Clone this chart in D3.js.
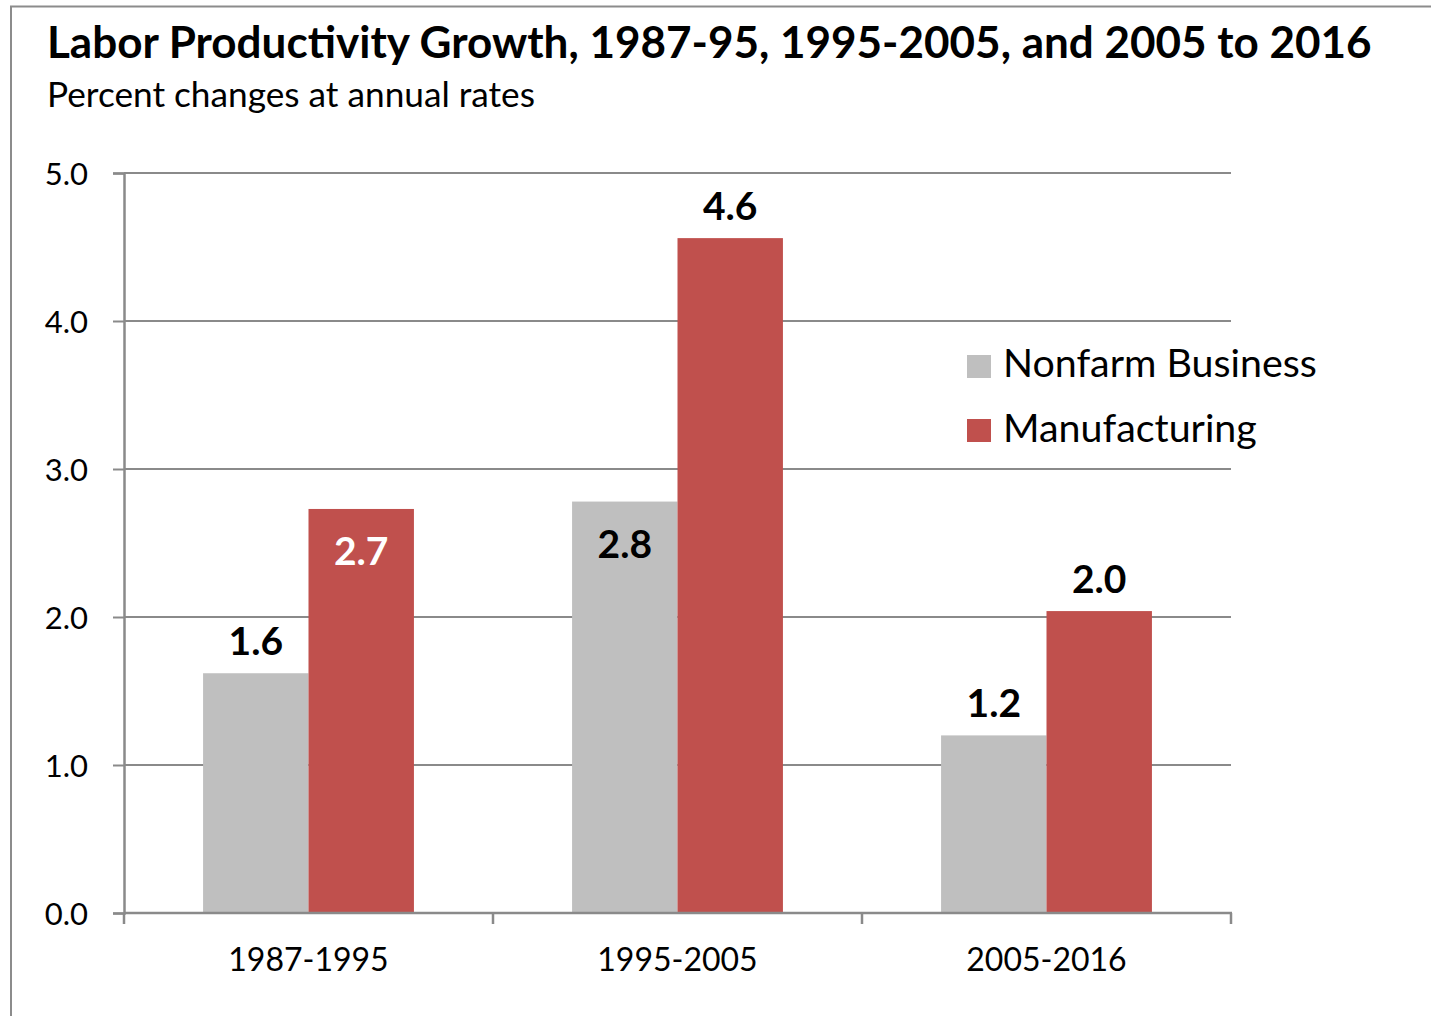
<!DOCTYPE html>
<html>
<head>
<meta charset="utf-8">
<script src="https://cdn.jsdelivr.net/npm/d3@7"></script>
<style>
  body { margin: 0; background: #fff; }
  text { font-family: Lato, "Open Sans", sans-serif; fill: #000; }
</style>
</head>
<body>
<script>
// data
var periods = ["1987-1995", "1995-2005", "2005-2016"];
var seriesNames = ["Nonfarm Business", "Manufacturing"];
var nonfarm = [1.62, 2.78, 1.20];
var manufacturing = [2.73, 4.56, 2.04];
var nonfarmLabels = ["1.6", "2.8", "1.2"];
var manufacturingLabels = ["2.7", "4.6", "2.0"];
var labelSpot = [["above", "inside", "above"], ["inside", "above", "above"]];
var yTicks = [0, 1, 2, 3, 4, 5];

var colors = ["#BFBFBF", "#C0504D"];
var W = 1431, H = 1016;

var svg = d3.select("body").append("svg")
    .attr("width", W).attr("height", H);

// outer frame (cut off on right and bottom)
svg.append("rect")
    .attr("x", 11).attr("y", 6.5)
    .attr("width", 1440).attr("height", 1030)
    .attr("fill", "none").attr("stroke", "#8c8c8c").attr("stroke-width", 2);

// fit text to a width
function fit(sel, w) {
    var n = sel.node();
    var fs = parseFloat(sel.attr("font-size"));
    var cw = n.getComputedTextLength();
    var nfs = fs * w / cw;
    sel.attr("font-size", nfs.toFixed(2));
    return nfs;
}

// titles
var t = svg.append("text").attr("x", 47).attr("y", 58)
    .attr("font-size", 38).attr("font-weight", 700)
    .text("Labor Productivity Growth, 1987-95, 1995-2005, and 2005 to 2016");
fit(t, 1325);
var st = svg.append("text").attr("x", 47).attr("y", 107)
    .attr("font-size", 32)
    .text("Percent changes at annual rates");
fit(st, 488);

// scales
var x = d3.scaleBand().domain(periods).range([124, 1231]).padding(0);
var x1 = d3.scaleBand().domain([0, 1]).range([0, x.bandwidth()])
    .paddingInner(0).paddingOuter(0.75);
var y = d3.scaleLinear().domain([0, 5]).range([913, 173]);

// gridlines
svg.append("g").selectAll("line").data(yTicks.slice(1)).join("line")
    .attr("x1", 124).attr("x2", 1231)
    .attr("y1", d => y(d)).attr("y2", d => y(d))
    .attr("stroke", "#8a8a8a").attr("stroke-width", 2);

// bars
var allVals = [nonfarm, manufacturing];
var allLabels = [nonfarmLabels, manufacturingLabels];
allVals.forEach((vals, s) => {
    svg.append("g").selectAll("rect").data(vals).join("rect")
        .attr("x", (d, i) => x(periods[i]) + x1(s))
        .attr("y", d => y(d))
        .attr("width", x1.bandwidth())
        .attr("height", d => y(0) - y(d))
        .attr("fill", colors[s]);
});

// y axis
var yAxis = d3.axisLeft(y).tickValues(yTicks).tickFormat(d3.format(".1f"))
    .tickSize(11).tickPadding(25);
var ga = svg.append("g").attr("transform", "translate(124,0)").call(yAxis);
ga.select(".domain").attr("stroke", "#8a8a8a").attr("stroke-width", 2.5);
ga.selectAll(".tick line").attr("stroke", "#8a8a8a").attr("stroke-width", 2);
ga.selectAll(".tick text").attr("font-size", 31).attr("font-family", "Lato, sans-serif")
    .attr("fill", "#000").attr("dy", "0.36em");

// x axis
var xAxis = d3.axisBottom(x).tickSize(0).tickPadding(35);
var gx = svg.append("g").attr("transform", "translate(0,913)").call(xAxis);
gx.select(".domain").remove();
gx.selectAll(".tick text").attr("font-size", 32).attr("font-family", "Lato, sans-serif")
    .attr("fill", "#000");
svg.append("line").attr("x1", 124).attr("x2", 1232).attr("y1", 913).attr("y2", 913)
    .attr("stroke", "#8a8a8a").attr("stroke-width", 2.5);
var bounds = periods.map(p => x(p)).concat([x(periods[periods.length - 1]) + x.bandwidth()]);
svg.append("g").selectAll("line").data(bounds).join("line")
    .attr("x1", d => d).attr("x2", d => d)
    .attr("y1", 913).attr("y2", 924)
    .attr("stroke", "#8a8a8a").attr("stroke-width", 2.5);

// data labels
allVals.forEach((vals, s) => {
    svg.append("g").selectAll("text").data(vals).join("text")
        .attr("x", (d, i) => x(periods[i]) + x1(s) + x1.bandwidth() / 2)
        .attr("y", (d, i) => labelSpot[s][i] === "above" ? y(d) - 18 : y(d) + 56)
        .attr("text-anchor", "middle")
        .attr("font-size", 39).attr("font-weight", 700)
        .style("fill", (d, i) => (labelSpot[s][i] === "inside" && s === 1) ? "#fff" : "#000")
        .text((d, i) => allLabels[s][i]);
});

// legend
var leg = svg.append("g");
var legFs = 32;
seriesNames.forEach((n, i) => {
    leg.append("rect").attr("x", 967).attr("y", 355 + i * 64)
        .attr("width", 24).attr("height", 23).attr("fill", colors[i]);
    var lt = leg.append("text").attr("x", 1003).attr("y", 377 + i * 65)
        .attr("font-size", legFs).text(n);
    if (i === 0) legFs = fit(lt, 314);
});
</script>
</body>
</html>
